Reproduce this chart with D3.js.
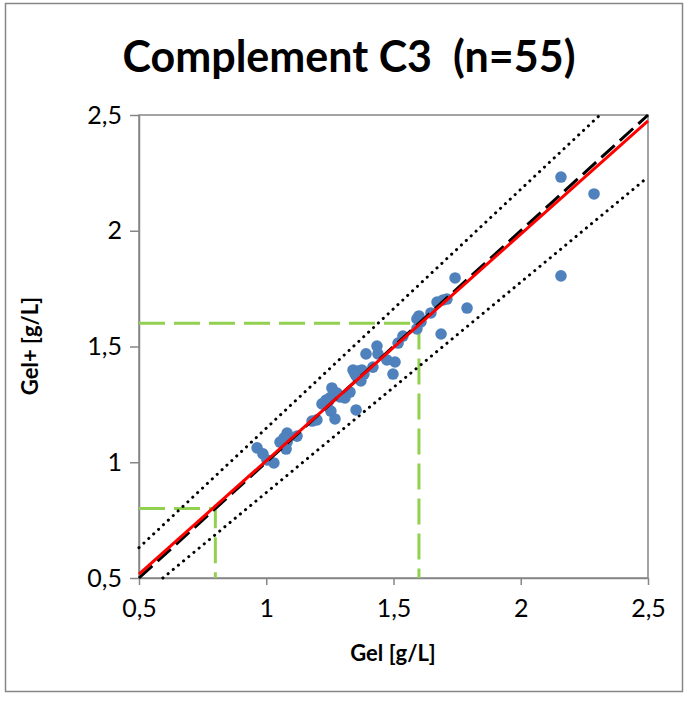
<!DOCTYPE html>
<html>
<head>
<meta charset="utf-8">
<script src="https://cdn.jsdelivr.net/npm/d3@7"></script>
<style>
  html, body { margin: 0; padding: 0; background: #fff; }
  svg { display: block; font-family: Lato, "Open Sans", sans-serif; }
</style>
</head>
<body>
<svg id="chart" width="686" height="702"></svg>
<script>
// ---- data ----
const titleText = "Complement C3  (n=55)";
const xTitle = "Gel [g/L]";
const yTitle = "Gel+ [g/L]";
const tickValues = [0.5, 1, 1.5, 2, 2.5];
const tickLabels = ["0,5", "1", "1,5", "2", "2,5"];

const gelX = [2.158, 2.288, 2.158, 1.742, 1.789, 1.671, 1.695, 1.710, 1.647, 1.592,
              1.608, 1.592, 1.687, 1.537, 1.518, 1.435, 1.392, 1.439, 1.474, 1.506,
              1.419, 1.498, 1.341, 1.361, 1.376, 1.357, 1.372, 1.329, 1.309, 1.258,
              1.278, 1.250, 1.290, 1.219, 1.243, 1.353, 1.254, 1.270, 1.180, 1.199,
              1.082, 1.121, 1.054, 1.082, 1.078, 0.964, 0.987, 1.003, 1.030, 1.266,
              1.349, 1.384, 1.070, 1.600, 1.235];
const gelPlusY = [2.232, 2.159, 1.805, 1.796, 1.666, 1.692, 1.701, 1.705, 1.645, 1.619,
                  1.606, 1.576, 1.554, 1.545, 1.515, 1.502, 1.468, 1.468, 1.442, 1.433,
                  1.411, 1.381, 1.398, 1.394, 1.398, 1.368, 1.351, 1.303, 1.278, 1.321,
                  1.299, 1.278, 1.282, 1.252, 1.260, 1.226, 1.221, 1.187, 1.178, 1.183,
                  1.126, 1.113, 1.087, 1.087, 1.057, 1.062, 1.036, 1.010, 0.997, 1.303,
                  1.381, 1.381, 1.105, 1.632, 1.269];

const identityLine = [[0.5, 0.5], [2.5, 2.5]];
const regressionLine = [[0.5, 0.517], [2.5, 2.475]];
const upperLimit = [[0.5, 0.631], [2.311, 2.5]];
const lowerLimit = [[0.594, 0.5], [2.5, 2.232]];
const cutoffHigh = [[0.5, 1.6], [1.6, 1.6], [1.6, 0.5]];
const cutoffLow = [[0.5, 0.8], [0.8, 0.8], [0.8, 0.5]];

// ---- layout ----
const svg = d3.select("#chart");
const pLeft = 139, pRight = 648, pTop = 115, pBottom = 578;
const x = d3.scaleLinear().domain([0.5, 2.5]).range([pLeft, pRight]);
const y = d3.scaleLinear().domain([0.5, 2.5]).range([pBottom, pTop]);
const gray = "#868686";

// outer border
svg.append("rect").attr("x", 5.5).attr("y", 3.5).attr("width", 677).attr("height", 688)
  .attr("fill", "#fff").attr("stroke", gray).attr("stroke-width", 1.5);

// title
svg.append("text").attr("x", 349).attr("y", 72).attr("text-anchor", "middle")
  .style("white-space", "pre")
  .attr("font-size", 43).attr("font-weight", "bold").attr("fill", "#000").text(titleText);

// plot area border
svg.append("rect").attr("x", pLeft).attr("y", pTop).attr("width", pRight - pLeft).attr("height", pBottom - pTop)
  .attr("fill", "none").attr("stroke", gray).attr("stroke-width", 1.5);

// axes
const fmt = d => tickLabels[tickValues.indexOf(d)];
const xAxis = svg.append("g").attr("transform", `translate(0,${pBottom})`)
  .call(d3.axisBottom(x).tickValues(tickValues).tickFormat(fmt).tickSize(7).tickSizeOuter(0).tickPadding(14));
const yAxis = svg.append("g").attr("transform", `translate(${pLeft},0)`)
  .call(d3.axisLeft(y).tickValues(tickValues).tickFormat(fmt).tickSize(9).tickSizeOuter(0).tickPadding(8));
[xAxis, yAxis].forEach(g => {
  g.select(".domain").attr("stroke", gray).attr("stroke-width", 1.5);
  g.selectAll(".tick line").attr("stroke", gray).attr("stroke-width", 1.5);
  g.selectAll(".tick text").attr("font-size", 25).attr("fill", "#000")
    .attr("font-family", "Lato, 'Open Sans', sans-serif");
});

// axis titles
svg.append("text").attr("x", 393).attr("y", 661).attr("text-anchor", "middle")
  .attr("font-size", 22).attr("font-weight", "bold").text(xTitle);
svg.append("text").attr("transform", "translate(38,346) rotate(-90)").attr("text-anchor", "middle")
  .attr("font-size", 22).attr("font-weight", "bold").text(yTitle);

const line = d3.line().x(d => x(d[0])).y(d => y(d[1]));

// green cut-off lines
[cutoffHigh, cutoffLow].forEach(pts => {
  svg.append("path").attr("d", line(pts)).attr("fill", "none")
    .attr("stroke", "#92D050").attr("stroke-width", 3).attr("stroke-dasharray", "26,9");
});

// dotted limit lines
[upperLimit, lowerLimit].forEach(pts => {
  svg.append("path").attr("d", line(pts)).attr("fill", "none")
    .attr("stroke", "#000").attr("stroke-width", 3).attr("stroke-linecap", "round")
    .attr("stroke-dasharray", "0.1,6.6");
});

// points
svg.append("g").selectAll("circle").data(gelX.map((v, i) => [v, gelPlusY[i]])).join("circle")
  .attr("cx", d => x(d[0])).attr("cy", d => y(d[1])).attr("r", 5.8).attr("fill", "#4F81BD");

// identity dashed line
svg.append("path").attr("d", line(identityLine)).attr("fill", "none")
  .attr("stroke", "#000").attr("stroke-width", 3).attr("stroke-dasharray", "18,7");

// regression line
svg.append("path").attr("d", line(regressionLine)).attr("fill", "none")
  .attr("stroke", "#FF0000").attr("stroke-width", 3);
</script>
</body>
</html>
